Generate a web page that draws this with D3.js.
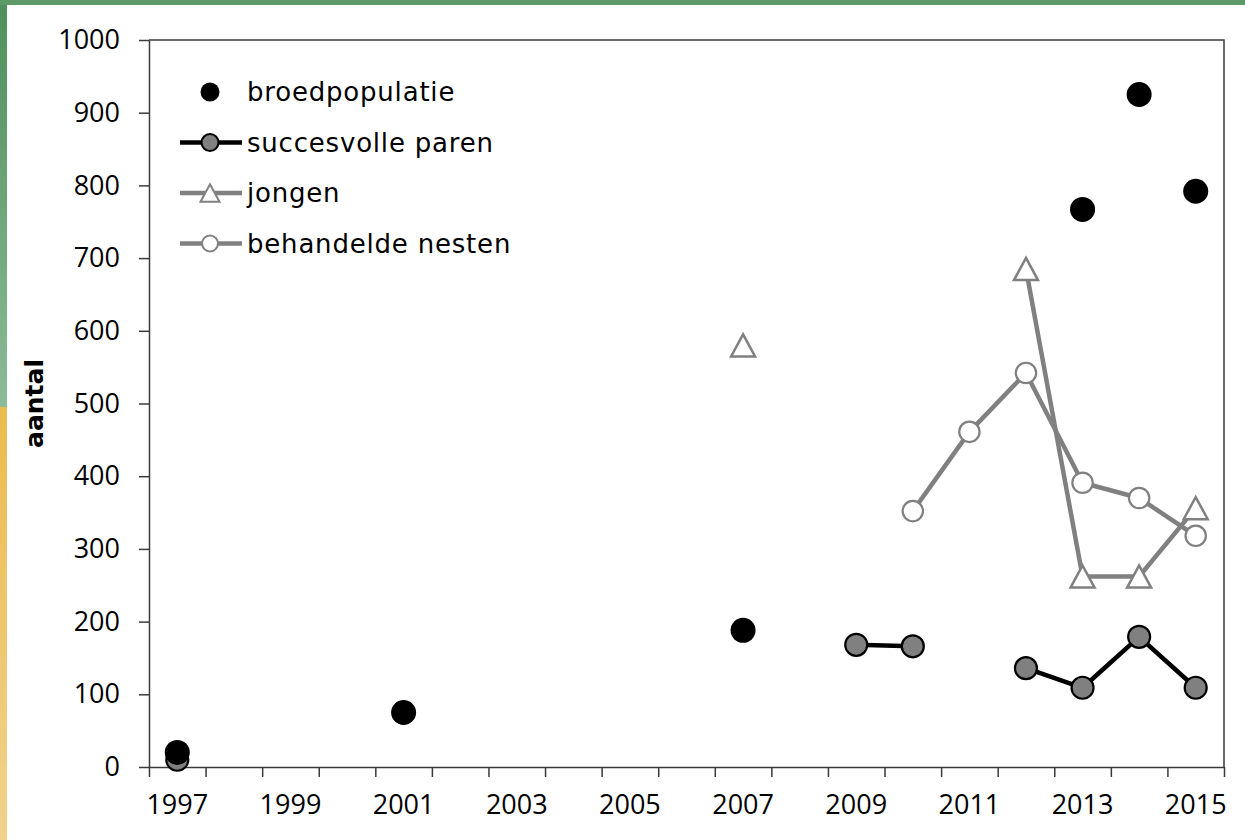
<!DOCTYPE html>
<html>
<head>
<meta charset="utf-8">
<script src="https://cdn.jsdelivr.net/npm/d3@7"></script>
<style>
    body { margin: 0; background: #fff; }
    svg { display: block; }
    .axis text { font-family: "Open Sans", sans-serif; font-size: 27px; fill: #000; }
    .axis path, .axis line { stroke: #3a3a3a; stroke-width: 1.5px; }
    .legend text { font-family: "DejaVu Sans", sans-serif; font-size: 26px; letter-spacing: 0.8px; fill: #000; }
</style>
</head>
<body>
<div id="chart"></div>
<script>

// categories (x axis)
const years = [1997, 1998, 1999, 2000, 2001, 2002, 2003, 2004, 2005, 2006,
               2007, 2008, 2009, 2010, 2011, 2012, 2013, 2014, 2015];
const yearLabels = [1997, 1999, 2001, 2003, 2005, 2007, 2009, 2011, 2013, 2015];
const yTicks = [0, 100, 200, 300, 400, 500, 600, 700, 800, 900, 1000];

// series values (null = no data)
const broedpopulatie = [20, null, null, null, 75, null, null, null, null, null,
                        188, null, null, null, null, null, 767, 925, 792];
const succesvolleParen = [10, null, null, null, null, null, null, null, null, null,
                          null, null, 168, 166, null, 136, 109, 179, 109];
const jongen = [null, null, null, null, null, null, null, null, null, null,
                580, null, null, null, null, 685, 262, 262, 356];
const behandeldeNesten = [null, null, null, null, null, null, null, null, null, null,
                          null, null, null, 352, 461, 542, 391, 370, 318];

const seriesNames = ["broedpopulatie", "succesvolle paren", "jongen", "behandelde nesten"];


// excel-like triangle marker (bbox centred)
const triangleSymbol = {
    draw(context, size) {
        let w = Math.sqrt(size), h = w * 0.92;
        context.moveTo(0, -h / 2);
        context.lineTo(w / 2, h / 2);
        context.lineTo(-w / 2, h / 2);
        context.closePath();
    }
};


class LineChart {

    constructor(parentElement) {
        this.parentElement = parentElement;

        // styles per series, built from the arrays above
        this.series = [
            {name: seriesNames[1], values: succesvolleParen, line: "#000", marker: "circle",
                r: 11, fill: "#808080", stroke: "#000", lr: 8.5},
            {name: seriesNames[0], values: broedpopulatie, line: null, marker: "circle",
                r: 12.5, fill: "#000", stroke: "none", lr: 9.5},
            {name: seriesNames[2], values: jongen, line: "#808080", marker: "triangle",
                size: 24 * 24, fill: "#fff", stroke: "#808080", lsize: 19 * 19},
            {name: seriesNames[3], values: behandeldeNesten, line: "#808080", marker: "circle",
                r: 10.2, fill: "#fff", stroke: "#808080", lr: 8}
        ];

        this.initVis();
    }

    initVis() {
        let vis = this;

        vis.W = 1245;
        vis.H = 840;
        vis.margin = {top: 40, right: 21, bottom: 73, left: 149};
        vis.width = vis.W - vis.margin.left - vis.margin.right;
        vis.height = vis.H - vis.margin.top - vis.margin.bottom;

        vis.root = d3.select("#" + vis.parentElement).append("svg")
            .attr("width", vis.W)
            .attr("height", vis.H);

        // page decoration: green top bar, green/yellow left bar
        let grad = vis.root.append("defs").append("linearGradient")
            .attr("id", "sideGrad")
            .attr("x1", 0).attr("y1", 0).attr("x2", 0).attr("y2", 1);
        [["0", "#4f8f5a"], ["0.484", "#8cbb98"], ["0.485", "#ebbb4f"], ["1", "#f1d28c"]]
            .forEach(s => grad.append("stop").attr("offset", s[0]).attr("stop-color", s[1]));

        vis.root.append("rect")
            .attr("width", 7).attr("height", vis.H)
            .attr("fill", "url(#sideGrad)");
        vis.root.append("rect")
            .attr("width", vis.W).attr("height", 5)
            .attr("fill", "#5e9a68");

        vis.svg = vis.root.append("g")
            .attr("transform", `translate(${vis.margin.left}, ${vis.margin.top})`);

        // scales
        vis.x = d3.scaleBand()
            .domain(years)
            .range([0, vis.width])
            .padding(0);

        vis.xEdge = d3.scaleLinear()
            .domain([0, years.length])
            .range([0, vis.width]);

        vis.y = d3.scaleLinear()
            .domain([0, 1000])
            .range([vis.height, 0]);

        // plot box (top + right)
        vis.svg.append("path")
            .attr("d", `M0,0H${vis.width}V${vis.height}`)
            .attr("fill", "none")
            .attr("stroke", "#3a3a3a")
            .attr("stroke-width", 1.5);

        // y axis
        vis.svg.append("g")
            .attr("class", "axis y-axis")
            .call(d3.axisLeft(vis.y).tickValues(yTicks).tickFormat(d3.format("d"))
                .tickSize(10).tickSizeOuter(0).tickPadding(19));

        // x axis tick marks between categories
        vis.svg.append("g")
            .attr("class", "axis x-axis")
            .attr("transform", `translate(0, ${vis.height})`)
            .call(d3.axisBottom(vis.xEdge).tickValues(d3.range(years.length + 1))
                .tickSize(10).tickSizeOuter(0).tickFormat(""));

        // x labels centred on every other category
        vis.svg.append("g")
            .attr("class", "axis x-labels")
            .attr("transform", `translate(0, ${vis.height})`)
            .call(d3.axisBottom(vis.x).tickValues(yearLabels).tickSize(0).tickPadding(28))
            .select(".domain").remove();

        // y title
        vis.root.append("text")
            .attr("transform", `translate(43, ${vis.margin.top + vis.height / 2}) rotate(-90)`)
            .attr("text-anchor", "middle")
            .style("font-family", "'DejaVu Sans', sans-serif")
            .style("font-weight", "bold")
            .style("font-size", "25px")
            .style("fill", "#000")
            .text("aantal");

        vis.legend = vis.svg.append("g").attr("class", "legend");

        vis.wrangleData();
    }

    wrangleData() {
        let vis = this;

        vis.series.forEach(s => {
            s.points = years.map((yr, i) => ({year: yr, value: s.values[i]}));
        });

        vis.updateVis();
    }

    updateVis() {
        let vis = this;

        let cx = d => vis.x(d.year) + vis.x.bandwidth() / 2;

        let line = d3.line()
            .defined(d => d.value != null)
            .x(cx)
            .y(d => vis.y(d.value));

        // lines first
        vis.series.filter(s => s.line).forEach(s => {
            vis.svg.append("path")
                .datum(s.points)
                .attr("fill", "none")
                .attr("stroke", s.line)
                .attr("stroke-width", 4.5)
                .attr("stroke-linejoin", "round")
                .attr("d", line);
        });

        // markers
        vis.series.forEach(s => {
            let pts = s.points.filter(d => d.value != null);
            if (s.marker === "circle") {
                vis.svg.selectAll(null)
                    .data(pts)
                    .enter().append("circle")
                    .attr("cx", cx)
                    .attr("cy", d => vis.y(d.value))
                    .attr("r", s.r)
                    .attr("fill", s.fill)
                    .attr("stroke", s.stroke)
                    .attr("stroke-width", 2.2);
            } else {
                vis.svg.selectAll(null)
                    .data(pts)
                    .enter().append("path")
                    .attr("transform", d => `translate(${cx(d)}, ${vis.y(d.value)})`)
                    .attr("d", d3.symbol().type(triangleSymbol).size(s.size))
                    .attr("fill", s.fill)
                    .attr("stroke", s.stroke)
                    .attr("stroke-width", 2.5);
            }
        });

        // legend
        let order = [1, 0, 2, 3];
        order.forEach((k, i) => {
            let s = vis.series[k];
            let row = vis.legend.append("g")
                .attr("transform", `translate(31, ${52 + i * 50.5})`);

            if (s.line) {
                row.append("line")
                    .attr("x1", 0).attr("x2", 62)
                    .attr("stroke", s.line)
                    .attr("stroke-width", 4.5);
            }
            if (s.marker === "circle") {
                row.append("circle")
                    .attr("cx", 30).attr("r", s.lr)
                    .attr("fill", s.fill)
                    .attr("stroke", s.stroke)
                    .attr("stroke-width", 2);
            } else {
                row.append("path")
                    .attr("transform", "translate(30, 0)")
                    .attr("d", d3.symbol().type(triangleSymbol).size(s.lsize))
                    .attr("fill", s.fill)
                    .attr("stroke", s.stroke)
                    .attr("stroke-width", 2);
            }
            row.append("text")
                .attr("x", 67)
                .attr("dy", "0.35em")
                .text(s.name);
        });
    }
}

new LineChart("chart");

</script>
</body>
</html>
